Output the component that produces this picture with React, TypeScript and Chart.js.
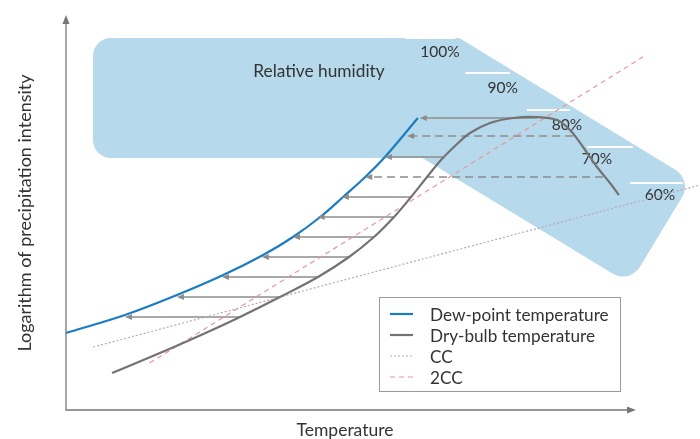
import React, { useEffect, useRef } from 'react';
import { Chart, registerables } from 'chart.js';
Chart.register(...registerables);

// ---- Data (schematic units: temperature 0..100, log precipitation 0..100) ----
const dewPointX = [0, 9.3, 17.5, 24.8, 31.1, 35.8, 40.1, 43.7, 47.2, 50.3, 55.5];
const dewPointY = [19.25, 23.75, 28.75, 33.75, 38.75, 43.25, 48.25, 53.25, 58.25, 63.25, 73];

const dryBulbX = [7.26, 15.93, 22.71, 27.44, 33.75, 39.75, 44.64, 48.58, 51.74, 54.42, 56.94, 59.15, 61.51, 63.72, 66.88, 70.5, 74.29, 77.44, 79.5, 81.55, 83.75, 85.8, 87.2];
const dryBulbY = [9.25, 15, 19.75, 23.25, 28.25, 33.25, 38.25, 43.25, 48.25, 53.25, 58.25, 62.5, 66.25, 69.25, 71.75, 73, 73.25, 72.5, 70, 65.75, 60.75, 56.75, 53.75];

const ccX = [4.3, 100];
const ccY = [15.75, 56.25];
const twoCcX = [13.2, 91];
const twoCcY = [11.75, 88.25];

const arrowLevels = [73, 68.5, 63.25, 58.25, 53.25, 48.25, 43.25, 38.25, 33.25, 28.25, 23.25];
const arrowFrom = [74.3, 80.0, 59.6, 84.7, 54.42, 51.74, 48.58, 44.64, 39.75, 33.75, 27.44];
const arrowTo = [55.8, 53.8, 50.3, 47.2, 43.5, 39.7, 35.8, 30.9, 24.6, 17.5, 9.3];
const arrowDashed = [false, true, false, true, false, false, false, false, false, false, false];

const humidityLabels = ['100%', '90%', '80%', '70%', '60%'];
const humidityLabelX = [59.0, 68.9, 79.0, 83.75, 93.7];
const humidityLabelY = [89.5, 80.5, 71.25, 62.75, 53.75];
const humidityMarkStart = [53.5, 63.0, 72.7, 82.2, 89.0];
const humidityMarkEnd = [61.4, 70.0, 79.5, 89.4, 97.3];
const humidityMarkY = [93, 84.25, 75, 65.75, 56.75];

const bandX = [4.26, 62.0, 98.8, 88.9, 56.2, 4.26];
const bandY = [93, 93, 57.5, 31.5, 63, 63];
const bandTitle = 'Relative humidity';
const bandTitleX = 39.9;
const bandTitleY = 84.75;

const legendLabels = ['Dew-point temperature', 'Dry-bulb temperature', 'CC', '2CC'];
const xAxisTitle = 'Temperature';
const yAxisTitle = 'Logarithm of precipitation intensity';

const FONT = 'Lato, "Open Sans", sans-serif';
const TEXT = '#333333';
const BLUE = '#1b7dc1';
const GRAY = '#737373';
const CC_COL = '#b7a9b8';
const CC2_COL = '#e8979b';
const ARROW = '#8c8c8c';
const BAND = '#b6d9eb';

const zip = (xs: number[], ys: number[]) => xs.map((x, i) => ({ x, y: ys[i] }));

const decorPlugin = {
  id: 'decor',
  beforeDatasetsDraw(chart: any) {
    const { ctx, scales } = chart;
    const sx = scales.x, sy = scales.y;
    const pts = bandX.map((x, i) => [sx.getPixelForValue(x), sy.getPixelForValue(bandY[i])]);
    ctx.save();
    ctx.fillStyle = BAND;
    ctx.beginPath();
    const n = pts.length;
    const mid = (a: number[], b: number[]) => [(a[0] + b[0]) / 2, (a[1] + b[1]) / 2];
    const start = mid(pts[n - 1], pts[0]);
    ctx.moveTo(start[0], start[1]);
    const radii = [18, 4, 20, 20, 6, 18];
    for (let i = 0; i < n; i++) {
      const p = pts[i];
      const q = pts[(i + 1) % n];
      ctx.arcTo(p[0], p[1], q[0], q[1], radii[i]);
    }
    ctx.closePath();
    ctx.fill();

    // white humidity marks
    ctx.strokeStyle = '#ffffff';
    ctx.lineWidth = 2;
    humidityMarkY.forEach((y, i) => {
      const py = sy.getPixelForValue(y);
      ctx.beginPath();
      ctx.moveTo(sx.getPixelForValue(humidityMarkStart[i]), py);
      ctx.lineTo(sx.getPixelForValue(humidityMarkEnd[i]), py);
      ctx.stroke();
    });

    ctx.fillStyle = TEXT;
    ctx.textAlign = 'center';
    ctx.textBaseline = 'middle';
    ctx.font = `15.5px ${FONT}`;
    humidityLabels.forEach((t, i) => {
      ctx.fillText(t, sx.getPixelForValue(humidityLabelX[i]), sy.getPixelForValue(humidityLabelY[i]));
    });
    ctx.font = `17.3px ${FONT}`;
    ctx.fillText(bandTitle, sx.getPixelForValue(bandTitleX), sy.getPixelForValue(bandTitleY));
    ctx.restore();
  },
  afterDatasetsDraw(chart: any) {
    const { ctx, scales } = chart;
    const sx = scales.x, sy = scales.y;
    ctx.save();
    // arrowheads
    ctx.fillStyle = ARROW;
    arrowLevels.forEach((y, i) => {
      const px = sx.getPixelForValue(arrowTo[i]);
      const py = sy.getPixelForValue(y);
      ctx.beginPath();
      ctx.moveTo(px, py);
      ctx.lineTo(px + 7, py - 3);
      ctx.lineTo(px + 7, py + 3);
      ctx.closePath();
      ctx.fill();
    });

    // axes
    const x0 = sx.getPixelForValue(0);
    const y0 = sy.getPixelForValue(0);
    const xEnd = sx.getPixelForValue(89.9);
    const yEnd = sy.getPixelForValue(98.75);
    ctx.strokeStyle = '#777777';
    ctx.fillStyle = '#777777';
    ctx.lineWidth = 1.3;
    ctx.beginPath();
    ctx.moveTo(x0, yEnd + 6);
    ctx.lineTo(x0, y0);
    ctx.lineTo(xEnd - 6, y0);
    ctx.stroke();
    ctx.beginPath();
    ctx.moveTo(x0, yEnd);
    ctx.lineTo(x0 - 3.5, yEnd + 9);
    ctx.lineTo(x0 + 3.5, yEnd + 9);
    ctx.closePath();
    ctx.fill();
    ctx.beginPath();
    ctx.moveTo(xEnd, y0);
    ctx.lineTo(xEnd - 9, y0 - 3.5);
    ctx.lineTo(xEnd - 9, y0 + 3.5);
    ctx.closePath();
    ctx.fill();

    // axis titles
    ctx.fillStyle = TEXT;
    ctx.font = `17.5px ${FONT}`;
    ctx.textAlign = 'center';
    ctx.textBaseline = 'middle';
    ctx.fillText(xAxisTitle, 345, 430);
    ctx.save();
    ctx.translate(25, 213);
    ctx.rotate(-Math.PI / 2);
    ctx.font = `18px ${FONT}`;
    ctx.fillText(yAxisTitle, 0, 0);
    ctx.restore();

    // legend
    const lx = 379, ly = 297, lw = 241, lh = 94;
    ctx.fillStyle = '#ffffff';
    ctx.fillRect(lx, ly, lw, lh);
    ctx.strokeStyle = '#9a9a9a';
    ctx.lineWidth = 1;
    ctx.strokeRect(lx + 0.5, ly + 0.5, lw, lh);
    const rows = [314, 335, 356, 377];
    const cols = [BLUE, GRAY, CC_COL, CC2_COL];
    const dashes = [[], [], [2, 2], [5, 4]];
    const widths = [2.2, 2.2, 1.2, 1.2];
    legendLabels.forEach((t, i) => {
      ctx.strokeStyle = cols[i];
      ctx.lineWidth = widths[i];
      ctx.setLineDash(dashes[i]);
      ctx.beginPath();
      ctx.moveTo(390, rows[i]);
      ctx.lineTo(413, rows[i]);
      ctx.stroke();
      ctx.setLineDash([]);
      ctx.fillStyle = TEXT;
      ctx.textAlign = 'left';
      ctx.font = `17.2px ${FONT}`;
      ctx.fillText(t, 430, rows[i] + 1);
    });
    ctx.restore();
  },
};

export default function App() {
  const ref = useRef<HTMLCanvasElement>(null);
  useEffect(() => {
    document.body.style.margin = '0';
    const curve = (label: string, data: any[], color: string, width: number, dash: number[], tension: number) => ({
      label,
      data,
      borderColor: color,
      backgroundColor: color,
      borderWidth: width,
      borderDash: dash,
      pointRadius: 0,
      showLine: true,
      tension,
      clip: false,
    });
    const arrows = arrowLevels.map((y, i) =>
      curve('arrow', [{ x: arrowFrom[i], y }, { x: arrowTo[i] + 1, y }], ARROW, 1.5, arrowDashed[i] ? [8, 5] : [], 0)
    );
    const chart = new Chart(ref.current!, {
      type: 'scatter',
      data: {
        datasets: [
          curve(legendLabels[0], zip(dewPointX, dewPointY), BLUE, 2.2, [], 0.35),
          curve(legendLabels[1], zip(dryBulbX, dryBulbY), GRAY, 2.2, [], 0.35),
          curve(legendLabels[2], zip(ccX, ccY), CC_COL, 1.2, [2, 2], 0),
          curve(legendLabels[3], zip(twoCcX, twoCcY), CC2_COL, 1.2, [5, 4], 0),
          ...arrows,
        ] as any,
      },
      options: {
        animation: false,
        responsive: true,
        maintainAspectRatio: false,
        layout: { padding: { left: 66, right: 0, top: 10, bottom: 29 } },
        scales: {
          x: { type: 'linear', min: 0, max: 100, display: false },
          y: { type: 'linear', min: 0, max: 100, display: false },
        },
        plugins: { legend: { display: false }, tooltip: { enabled: false } },
        events: [],
      },
      plugins: [decorPlugin],
    });
    return () => chart.destroy();
  }, []);
  return (
    <div style={{ position: 'absolute', left: 0, top: 0, width: 700, height: 439 }}>
      <canvas ref={ref} />
    </div>
  );
}
